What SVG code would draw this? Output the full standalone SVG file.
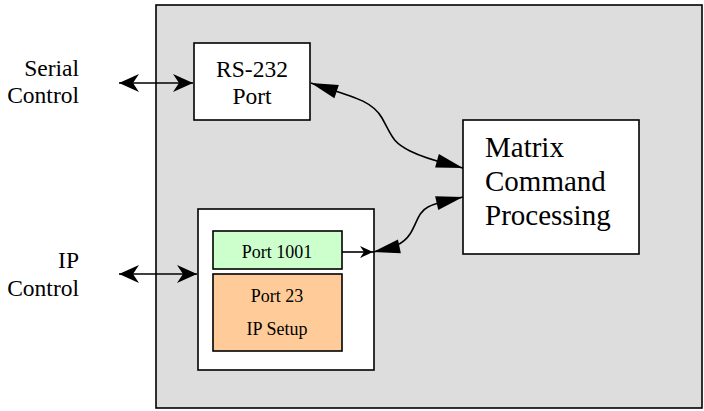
<svg xmlns="http://www.w3.org/2000/svg" width="704" height="411" viewBox="0 0 704 411">
<style>
.box{stroke:#000;stroke-width:1.6}
.conn{fill:none;stroke:#000;stroke-width:1.6}
</style>
<defs>
<marker id="vee" markerUnits="userSpaceOnUse" markerWidth="22" markerHeight="22" refX="20" refY="11" orient="auto-start-reverse" overflow="visible">
<path d="M20,11 L0,2 L6,11 L0,20 Z" fill="#000"/>
</marker>
<marker id="veeS" markerUnits="userSpaceOnUse" markerWidth="14" markerHeight="14" refX="13" refY="7" orient="auto" overflow="visible">
<path d="M13,7 L0,1 L4,7 L0,13 Z" fill="#000"/>
</marker>
<marker id="tri" markerUnits="userSpaceOnUse" markerWidth="28" markerHeight="16" refX="27" refY="7" orient="auto-start-reverse" overflow="visible">
<path d="M27,7 L0,0 L0,14 Z" fill="#000"/>
</marker>
</defs>
<g font-family="Liberation Serif, Times New Roman, DejaVu Serif, serif" fill="#000">
<g id="device">
<rect class="box" x="156" y="5" width="546" height="403" fill="#dddddd"/>
</g>
<g id="serial-label" font-size="23.5">
<text x="79" y="76" text-anchor="end">Serial</text>
<text x="79" y="103" text-anchor="end">Control</text>
</g>
<g id="ip-label" font-size="23.5">
<text x="79" y="268" text-anchor="end">IP</text>
<text x="79" y="296" text-anchor="end">Control</text>
</g>
<g id="rs232" font-size="23.5">
<rect class="box" x="194" y="43" width="116" height="77" fill="#fff"/>
<text x="252" y="77" text-anchor="middle">RS-232</text>
<text x="252" y="104" text-anchor="middle">Port</text>
</g>
<g id="matrix" font-size="29">
<rect class="box" x="463" y="120" width="176" height="134" fill="#fff"/>
<text x="485" y="157">Matrix</text>
<text x="485" y="191">Command</text>
<text x="485" y="225">Processing</text>
</g>
<g id="ip">
<rect class="box" x="198" y="209" width="176" height="161" fill="#fff"/>
</g>
<g id="port1001" font-size="18">
<rect class="box" x="213" y="231" width="129" height="38" fill="#ccffcc"/>
<text x="277" y="258" text-anchor="middle">Port 1001</text>
</g>
<g id="port23" font-size="18">
<rect class="box" x="213" y="274" width="129" height="77" fill="#ffcc99"/>
<text x="277" y="302" text-anchor="middle">Port 23</text>
<text x="277" y="335" text-anchor="middle">IP Setup</text>
</g>
</g>
<g id="connectors">
<path class="conn" d="M119,83 L193,83" marker-start="url(#vee)" marker-end="url(#vee)"/>
<path class="conn" d="M119,274 L197,274" marker-start="url(#vee)" marker-end="url(#vee)"/>
<path class="conn" d="M342,252 L373,252" marker-end="url(#veeS)"/>
<path class="conn" d="M311,83 C350,96 372,100 382,118 S392,142 410,151 S445,163 463,168" marker-start="url(#tri)" marker-end="url(#tri)"/>
<path class="conn" d="M373,252 C392,248 403,245 410,234 S418,212 428,207 S450,200 463,197" marker-start="url(#tri)" marker-end="url(#tri)"/>
</g>
</svg>
